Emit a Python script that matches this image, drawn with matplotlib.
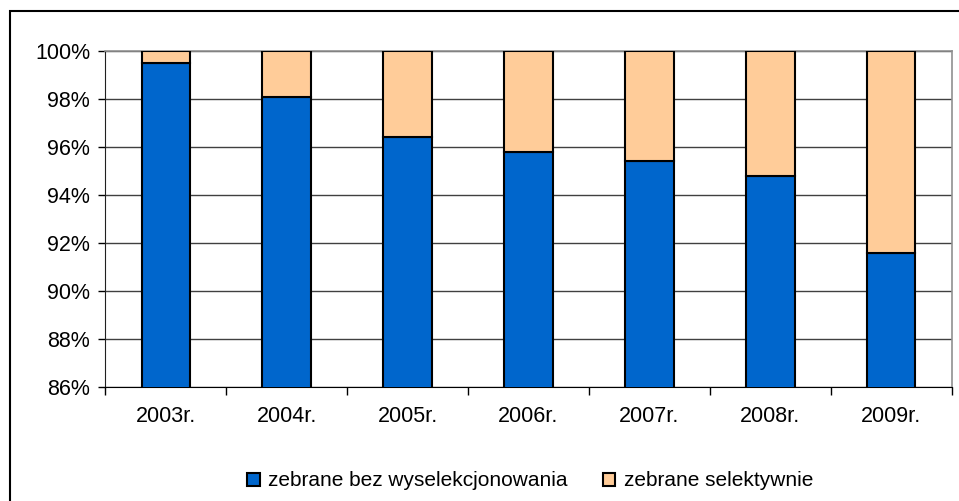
import matplotlib.pyplot as plt
import matplotlib.patches as mpatches
from matplotlib.ticker import FuncFormatter
import numpy as np

plt.rcParams['font.family'] = ['Liberation Sans', 'DejaVu Sans']

years = ['2003r.', '2004r.', '2005r.', '2006r.', '2007r.', '2008r.', '2009r.']
bez_selekcji = [99.5, 98.1, 96.4, 95.8, 95.4, 94.8, 91.6]  # % zebrane bez wyselekcjonowania
selektywnie = [100 - v for v in bez_selekcji]  # % zebrane selektywnie

blue = '#0066CC'
peach = '#FFCC99'

fig = plt.figure(figsize=(9.59, 5.01), dpi=100)
ax = fig.add_axes([105.3/959, 1 - 387/501, (951.7 - 105.3)/959, (387 - 51)/501])

x = np.arange(len(years))
w = 0.4
ax.bar(x, bez_selekcji, w, color=blue, edgecolor='black', linewidth=1.5,
       label='zebrane bez wyselekcjonowania', zorder=3)
ax.bar(x, selektywnie, w, bottom=bez_selekcji, color=peach, edgecolor='black',
       linewidth=1.5, label='zebrane selektywnie', zorder=3)

ax.set_xlim(-0.5, len(years) - 0.5)
ax.set_ylim(86, 100)
ax.set_yticks(np.arange(86, 101, 2))
ax.yaxis.set_major_formatter(FuncFormatter(lambda v, p: '%d%%' % v))
ax.set_xticks(x)
ax.set_xticklabels(years)
ax.set_xticks(np.arange(-0.5, len(years), 1), minor=True)
ax.tick_params(axis='x', which='major', length=0, pad=14, labelsize=15.5)
ax.tick_params(axis='x', which='minor', length=6, width=1, direction='out')
ax.tick_params(axis='y', length=5, width=1, direction='out', pad=6, labelsize=15.5)
ax.grid(axis='y', color='#404040', linewidth=1, zorder=0)

for s in ['top', 'right']:
    ax.spines[s].set_color('#909090')
    ax.spines[s].set_linewidth(1.2)
ax.spines['left'].set_color('#202020')
ax.spines['bottom'].set_color('black')

# outer chart frame (cropped at right and bottom)
frame = mpatches.Rectangle((9.5/959, -0.1), 1.2, 0.1 + (1 - 11/501), transform=fig.transFigure,
                           fill=False, edgecolor='black', linewidth=1.5)
fig.patches.append(frame)

fig.legend(loc='center', bbox_to_anchor=(530/959, 20/501), ncol=2, frameon=False,
           fontsize=15, handlelength=0.6, handleheight=0.6, handletextpad=0.4,
           columnspacing=1.7)

fig.savefig('out.png', dpi=100)
